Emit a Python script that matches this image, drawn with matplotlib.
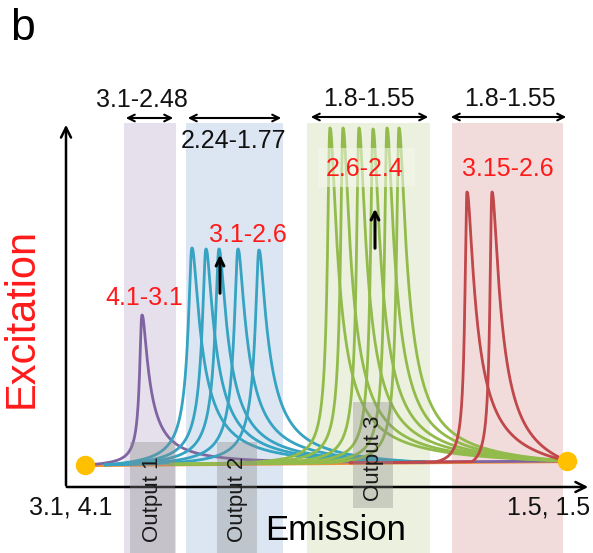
import numpy as np
import matplotlib.pyplot as plt
from matplotlib.patches import Rectangle

plt.rcParams['font.family'] = ['Liberation Sans', 'DejaVu Sans']

# schematic units: x along emission (px), peak tops in px from the top
purple_pos = [142]
purple_top = [315]
blue_pos = [192, 206, 219, 238, 259]
blue_top = [248, 249, 249, 249, 250]
green_pos = [330, 343, 359, 373, 387, 399]
green_top = [128, 128, 128, 129, 128, 128]
red_pos = [467, 492]
red_top = [192, 192]

band_spans = [(124, 176), (186, 283), (307, 430), (452, 563)]
band_colors = ['#e6e0ed', '#dce6f2', '#ebf1de', '#f2dcdb']
top_labels = ['3.1-2.48', '2.24-1.77', '1.8-1.55', '1.8-1.55']
red_labels = ['4.1-3.1', '3.1-2.6', '2.6-2.4', '3.15-2.6']
output_labels = ['Output 1', 'Output 2', 'Output 3']

left_dot = (85, 465)
right_dot = (567, 461)


def base(x):
    return left_dot[1] + (x - left_dot[0]) * (right_dot[1] - left_dot[1]) / (right_dot[0] - left_dot[0])


def shape(x, x0, wl, wr, p=1.25, r=1.5):
    dx = x - x0
    d = np.sqrt(dx ** 2 + r ** 2) - r
    w = np.where(dx < 0, wl, wr)
    return 1 / (1 + (d / w) ** p)


def peak(x, x0, top, wl, wr):
    # pull the tails down so every curve ends on the baseline
    xs, xe = x[0], x[-1]
    f = shape(x, x0, wl, wr)
    fs = shape(np.array([xs]), x0, wl, wr)[0]
    fe = shape(np.array([xe]), x0, wl, wr)[0]
    f0 = shape(np.array([x0]), x0, wl, wr)[0]
    lin = fs + (fe - fs) * (x - xs) / (xe - xs)
    lin0 = fs + (fe - fs) * (x0 - xs) / (xe - xs)
    g = np.clip((f - lin) / (f0 - lin0), 0, None)
    return (base(x0) - top) * g


fig = plt.figure(figsize=(5.93, 5.53), dpi=100)
ax = fig.add_axes([0, 0, 1, 1])
ax.set_xlim(0, 593)
ax.set_ylim(553, 0)
ax.axis('off')

# coloured bands
for (a, b), c in zip(band_spans, band_colors):
    ax.add_patch(Rectangle((a, 123), b - a, 553 - 123, color=c, zorder=0, lw=0))

# axes
ax.annotate('', xy=(591, 487), xytext=(64, 487),
            arrowprops=dict(arrowstyle='->', lw=1.8, color='black', mutation_scale=18), zorder=3)
ax.annotate('', xy=(66, 122), xytext=(66, 488),
            arrowprops=dict(arrowstyle='->', lw=1.8, color='black', mutation_scale=18), zorder=3)

# baselines
xb = np.linspace(95, 560, 400)
ax.plot(xb, base(xb) + 1, color='#f0913a', lw=1.6, zorder=2)

series = [
    (purple_pos, purple_top, '#8064a2', 2.0, 8.0, 85, 567),
    (blue_pos, blue_top, '#35a3c1', 4.2, 10.5, 105, 425),
    (green_pos, green_top, '#92bb4c', 2.2, 9.5, 170, 567),
    (red_pos, red_top, '#c0474a', 1.6, 10.0, 350, 567),
]
for pos, tops, col, wl, wr, xs, xe in series:
    x = np.linspace(xs, xe, 3000)
    for x0, t in zip(pos, tops):
        ax.plot(x, base(x) - peak(x, x0, t, wl, wr), color=col, lw=2.0, zorder=2,
                solid_capstyle='round')

# yellow end dots
ax.plot(*left_dot, 'o', color='#ffc000', ms=13, zorder=4)
ax.plot(*right_dot, 'o', color='#ffc000', ms=13, zorder=4)

# output boxes
out_boxes = [(130, 442, 45, 111), (217, 442, 40, 111), (353, 402, 40, 106)]
for (x0, y0, w, h), lab in zip(out_boxes, output_labels):
    ax.add_patch(Rectangle((x0, y0), w, h, color='#8a8a8a', alpha=0.35, lw=0, zorder=5))
    ax.text(x0 + w / 2, y0 + 57 if lab != 'Output 3' else y0 + 56, lab, rotation=90,
            ha='center', va='center', fontsize=16, color='#1a1a1a', zorder=6)

# light box behind 2.6-2.4
ax.add_patch(Rectangle((318, 148), 97, 39, color='#f4f8ec', alpha=0.55, lw=0, zorder=5))

# top range labels with double arrows
top_pos = [(142, 100), (234, 141), (369, 99), (510, 99)]
arrow_spans = [(123, 176, 118), (185, 284, 118), (308, 431, 117), (448, 569, 117)]
for lab, (tx, ty) in zip(top_labels, top_pos):
    ax.text(tx, ty, lab, ha='center', va='center', fontsize=18, color='#111111', zorder=6)
for a, b, y in arrow_spans:
    ax.annotate('', xy=(b, y), xytext=(a, y),
                arrowprops=dict(arrowstyle='<->', lw=1.5, color='black', mutation_scale=12), zorder=6)

# red labels
red_pos_txt = [(144, 298), (248, 235), (365, 169), (508, 169)]
for lab, (tx, ty) in zip(red_labels, red_pos_txt):
    ax.text(tx, ty, lab, ha='center', va='center', fontsize=18, color='#ff1a1a', zorder=7)

# small up arrows
for x0, y0, y1 in [(220, 296, 252), (375, 251, 206)]:
    ax.annotate('', xy=(x0, y1), xytext=(x0, y0),
                arrowprops=dict(arrowstyle='->', lw=2.2, color='black', mutation_scale=14), zorder=7)

# axis labels
ax.text(22, 318, 'Excitation', rotation=90, ha='center', va='center', fontsize=30, color='#ff1a1a')
ax.text(336, 530, 'Emission', ha='center', va='center', fontsize=25, color='black', zorder=7)
ax.text(71, 508, '3.1, 4.1', ha='center', va='center', fontsize=18, color='#111111')
ax.text(549, 508, '1.5, 1.5', ha='center', va='center', fontsize=18, color='#111111')
ax.text(10, 29, 'b', ha='left', va='center', fontsize=32, color='black')

fig.savefig('out.png', dpi=100)
